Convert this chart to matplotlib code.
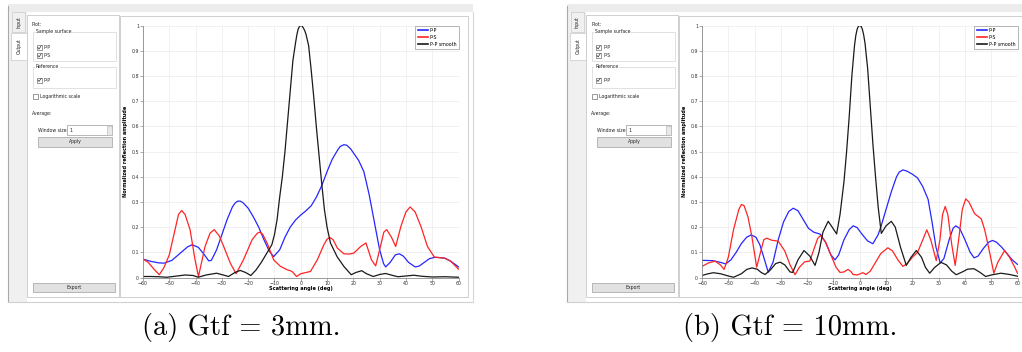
import matplotlib.pyplot as plt
from matplotlib.patches import Rectangle

# Normalised reflection amplitude vs scattering angle (deg)
# (a) Gtf = 3 mm
ang_pp_a = [-60, -57, -54, -52, -49, -46, -43, -41.3, -39, -37, -35, -34, -32, -30, -28, -26, -25, -24,
            -23, -22, -20, -18, -16, -14, -12, -10.3, -8, -6, -4, -2, 0, 2, 4, 6, 8, 10, 12, 14, 15,
            16.4, 17.5, 19, 20, 22, 24, 26, 28, 30, 31.5, 32.3, 34, 36, 37.5, 39, 41, 43.5, 45, 47,
            49, 51, 53, 55, 57, 59, 60]
pp_a = [0.073, 0.064, 0.058, 0.057, 0.068, 0.095, 0.122, 0.130, 0.120, 0.095, 0.066, 0.068, 0.11,
        0.17, 0.23, 0.28, 0.295, 0.303, 0.303, 0.297, 0.275, 0.24, 0.20, 0.15, 0.105, 0.083, 0.11,
        0.16, 0.20, 0.228, 0.248, 0.265, 0.285, 0.32, 0.365, 0.42, 0.47, 0.505, 0.52, 0.527,
        0.525, 0.51, 0.495, 0.465, 0.42, 0.33, 0.22, 0.11, 0.055, 0.042, 0.06, 0.09, 0.094,
        0.085, 0.06, 0.042, 0.045, 0.06, 0.075, 0.08, 0.079, 0.076, 0.065, 0.05, 0.042]

ang_ps_a = [-60, -58, -56, -53.8, -52, -50, -48.4, -46.5, -45.3, -44, -42.1, -40.2, -38.9, -36.4,
            -34.5, -32.9, -31, -29.3, -26.8, -24.6, -21.8, -18.5, -16.5, -15.6, -14.5, -12.8, -10.3,
            -7.7, -5.2, -3.3, -1.6, 0, 3.7, 6.3, 8.8, 10, 11.1, 12.3, 13.9, 16.4, 18.5, 20.2, 22.8,
            24.8, 26.9, 28.5, 30.3, 31.6, 32.7, 34.5, 36.1, 38.1, 40, 41.6, 43.5, 45.7, 48.2, 50.8,
            52.5, 54.6, 57, 60]
ps_a = [0.073, 0.06, 0.035, 0.011, 0.04, 0.09, 0.163, 0.25, 0.266, 0.25, 0.19, 0.07, 0.004, 0.123,
        0.176, 0.19, 0.165, 0.123, 0.057, 0.015, 0.07, 0.15, 0.176, 0.18, 0.172, 0.137, 0.07,
        0.044, 0.031, 0.024, 0.004, 0.015, 0.024, 0.07, 0.13, 0.152, 0.159, 0.15, 0.117, 0.094,
        0.093, 0.097, 0.123, 0.137, 0.07, 0.046, 0.123, 0.18, 0.19, 0.16, 0.123, 0.203, 0.26,
        0.28, 0.26, 0.203, 0.123, 0.081, 0.079, 0.077, 0.065, 0.033]

ang_sm_a = [-60, -57, -54, -51, -47, -44, -41, -39, -36, -32, -29.5, -27.5, -25, -23, -21, -19, -17,
            -15, -13, -11, -10, -9, -8, -7, -6, -5, -4, -3, -2, -1.5, -1, -0.5, 0, 0.5, 1, 1.5, 2,
            3, 4, 5, 6, 7, 8, 9, 10, 11.3, 13.8, 16.4, 19.2, 21, 23.2, 25, 27.6, 30, 32.3, 35, 37,
            40, 43, 46, 50, 55, 60]
sm_a = [0.004, 0.004, 0.003, 0.001, 0.006, 0.01, 0.008, 0.001, 0.01, 0.017, 0.01, 0.004, 0.02,
        0.028, 0.02, 0.008, 0.03, 0.06, 0.095, 0.13, 0.17, 0.23, 0.32, 0.40, 0.50, 0.62, 0.74,
        0.86, 0.93, 0.962, 0.985, 0.996, 1.0, 0.998, 0.99, 0.98, 0.965, 0.92, 0.82, 0.71, 0.59,
        0.48, 0.37, 0.27, 0.2, 0.137, 0.083, 0.044, 0.011, 0.02, 0.027, 0.015, 0.004, 0.012,
        0.016, 0.008, 0.003, 0.006, 0.009, 0.005, 0.002, 0.003, 0.001]

# (b) Gtf = 10 mm
ang_pp_b = [-60, -56, -53, -51, -49, -47, -45, -43, -41.3, -39.5, -38, -36.5, -34.8, -33, -31, -29,
            -27, -25.3, -23.5, -21.5, -19.5, -17.5, -15, -13, -11, -9.4, -8, -6, -4, -2.5, -1, 1,
            3, 5, 7, 8, 10, 12, 14, 15, 16.4, 18, 20, 22, 24, 26, 27.5, 29, 30.6, 32, 34, 35.5,
            36.5, 38, 40, 42, 43.5, 45, 47, 49, 50.5, 52, 54, 56, 58, 60]
pp_b = [0.068, 0.067, 0.06, 0.054, 0.07, 0.10, 0.135, 0.16, 0.169, 0.16, 0.13, 0.08, 0.021, 0.06,
        0.15, 0.22, 0.262, 0.275, 0.265, 0.23, 0.195, 0.18, 0.172, 0.14, 0.09, 0.07, 0.09, 0.15,
        0.19, 0.205, 0.198, 0.17, 0.145, 0.134, 0.17, 0.20, 0.27, 0.34, 0.40, 0.418, 0.427, 0.422,
        0.41, 0.395, 0.36, 0.31, 0.22, 0.12, 0.058, 0.075, 0.15, 0.195, 0.205, 0.195, 0.15,
        0.10, 0.078, 0.085, 0.115, 0.14, 0.147, 0.14, 0.12, 0.095, 0.07, 0.052]

ang_ps_b = [-60, -57.5, -55, -53, -51.6, -50, -48, -46, -45, -44, -42.5, -41, -39.2, -38, -36.5,
            -35.4, -33.5, -31, -28.5, -26.5, -24.6, -23, -21, -19, -17.5, -16, -14.9, -13, -11,
            -9, -7.5, -6, -4.5, -3.5, -2.5, -1, 1.2, 2.4, 4, 6, 8, 10.7, 12.5, 14.5, 16.4, 18, 20,
            22, 24, 25.5, 27, 29.1, 30.5, 31.5, 32.5, 33.5, 35, 36.3, 37.5, 39, 40.3, 41.5, 43.7,
            46.2, 47.5, 49, 51, 52.5, 55.1, 57, 59, 60]
ps_b = [0.044, 0.058, 0.065, 0.05, 0.032, 0.08, 0.19, 0.27, 0.29, 0.285, 0.24, 0.16, 0.041, 0.09,
        0.15, 0.156, 0.148, 0.144, 0.105, 0.05, 0.011, 0.04, 0.062, 0.065, 0.11, 0.155, 0.167,
        0.14, 0.09, 0.04, 0.02, 0.022, 0.032, 0.025, 0.012, 0.01, 0.019, 0.012, 0.025, 0.06,
        0.095, 0.118, 0.105, 0.07, 0.044, 0.055, 0.08, 0.10, 0.15, 0.189, 0.15, 0.067, 0.15,
        0.25, 0.282, 0.25, 0.13, 0.048, 0.14, 0.27, 0.312, 0.30, 0.253, 0.233, 0.19, 0.12,
        0.017, 0.06, 0.107, 0.08, 0.04, 0.017]

ang_sm_b = [-60, -58, -55.7, -53, -50, -48, -45, -43, -41, -39, -37.5, -36, -34, -32, -30.3, -28.5,
            -26.5, -25.5, -23.5, -21.2, -19, -17, -15.5, -14, -12, -10.5, -8.8, -7.5, -6, -5, -4,
            -3, -2, -1.5, -1, -0.5, 0, 0.5, 1, 1.5, 2, 3, 4, 5, 6, 7, 8.2, 10, 12, 13.5, 15.5,
            17.7, 19.5, 21.5, 23.5, 25, 26.6, 28.5, 30.9, 33, 35, 36.7, 39, 41, 43.4, 45.5, 47.9,
            50, 53.7, 57, 60]
sm_b = [0.008, 0.014, 0.019, 0.015, 0.006, 0.001, 0.015, 0.032, 0.038, 0.033, 0.02, 0.012, 0.03,
        0.055, 0.061, 0.05, 0.022, 0.02, 0.07, 0.107, 0.085, 0.048, 0.10, 0.18, 0.223, 0.20,
        0.173, 0.25, 0.38, 0.5, 0.64, 0.8, 0.92, 0.96, 0.985, 0.997, 1.0, 0.997, 0.985, 0.962,
        0.93, 0.83, 0.68, 0.53, 0.40, 0.28, 0.175, 0.205, 0.223, 0.20, 0.12, 0.048, 0.08, 0.107,
        0.08, 0.04, 0.017, 0.04, 0.06, 0.05, 0.025, 0.011, 0.022, 0.033, 0.035, 0.022, 0.004,
        0.01, 0.017, 0.012, 0.005]

x_ticks = list(range(-60, 61, 10))
y_ticks = [i / 10 for i in range(11)]
y_tick_labels = ['0', '0.1', '0.2', '0.3', '0.4', '0.5', '0.6', '0.7', '0.8', '0.9', '1']
series_names = ['P-P', 'P-S', 'P-P smooth']
series_colors = ['#2626ff', '#ff2424', '#1a1a1a']
captions = ['(a) Gtf = 3mm.', '(b) Gtf = 10mm.']

W, H = 1022, 352
fig = plt.figure(figsize=(W / 100, H / 100), dpi=100)
fig.patch.set_facecolor('white')
bg = fig.add_axes([0, 0, 1, 1])
bg.set_xlim(0, W)
bg.set_ylim(H, 0)
bg.axis('off')

UI = 3.3  # font size for the widget text


def box(x0, y0, x1, y1, fc='white', ec='#c8c8c8', lw=0.6, z=1):
    bg.add_patch(Rectangle((x0, y0), x1 - x0, y1 - y0, facecolor=fc, edgecolor=ec, lw=lw, zorder=z))


def checkbox(x, y, label, checked=True):
    box(x, y - 2.5, x + 5, y + 2.5, ec='#707070', lw=0.5, z=3)
    if checked:
        bg.plot([x + 0.9, x + 2.1, x + 4.2], [y, y + 1.5, y - 1.7], color='#333333', lw=0.5, zorder=4)
    bg.text(x + 7, y, label, fontsize=UI, va='center', ha='left', color='#222222', zorder=4)


def group(x0, y0, x1, y1, title):
    box(x0, y0, x1, y1, fc='none', ec='#dcdcdc', lw=0.6, z=2)
    bg.text(x0 + 3, y0, title, fontsize=UI, va='center', ha='left', color='#222222', zorder=4,
            bbox=dict(facecolor='white', edgecolor='none', pad=0.4))


def button(x0, y0, x1, y1, label):
    box(x0, y0, x1, y1, fc='#e1e1e1', ec='#adadad', lw=0.6, z=3)
    bg.text((x0 + x1) / 2, (y0 + y1) / 2, label, fontsize=UI, ha='center', va='center',
            color='#222222', zorder=4)


def window(ox, angles, values, caption, cx):
    # window chrome: top strip, tab bar, option panel and plot frame
    box(ox, 4, ox + 465, 12, fc='#ececec', ec='none', z=0)
    box(ox, 12, ox + 19, 302, fc='#f0f0f0', ec='none', z=0)
    bg.plot([ox, ox], [6, 302], color='#a8a8a8', lw=0.8, zorder=1)
    bg.plot([ox, ox + 465], [302, 302], color='#d0d0d0', lw=0.8, zorder=1)
    bg.plot([ox + 465, ox + 465], [12, 302], color='#d8d8d8', lw=0.8, zorder=1)
    box(ox + 4, 12, ox + 17, 32, fc='#f0f0f0', ec='#c8c8c8', lw=0.5, z=1)
    box(ox + 3, 33, ox + 19, 60, fc='white', ec='#c8c8c8', lw=0.5, z=1)
    bg.text(ox + 10.5, 22, 'Input', rotation=90, fontsize=UI, ha='center', va='center', color='#222222')
    bg.text(ox + 11, 46.5, 'Output', rotation=90, fontsize=UI, ha='center', va='center', color='#222222')

    box(ox + 19, 15, ox + 111, 297)
    bg.text(ox + 24, 24, 'Plot:', fontsize=UI, va='center', color='#222222')
    group(ox + 25, 32, ox + 108, 61, 'Sample surface')
    checkbox(ox + 29, 47.5, 'P-P')
    checkbox(ox + 29, 55.5, 'P-S')
    group(ox + 25, 67, ox + 108, 88, 'Reference')
    checkbox(ox + 29, 80, 'P-P')
    checkbox(ox + 25, 96.5, 'Logarithmic scale', checked=False)
    bg.text(ox + 24, 114, 'Average:', fontsize=UI, va='center', color='#222222')
    bg.text(ox + 30, 130, 'Window size', fontsize=UI, va='center', color='#222222')
    box(ox + 59, 125, ox + 104, 135, ec='#9a9a9a', lw=0.5, z=3)
    box(ox + 99, 125.5, ox + 103.5, 134.5, fc='#e8e8e8', ec='#b0b0b0', lw=0.4, z=4)
    bg.text(ox + 61, 130, '1', fontsize=UI, va='center', color='#222222', zorder=5)
    button(ox + 30, 137, ox + 104, 147, 'Apply')
    button(ox + 25, 283, ox + 107, 292, 'Export')

    box(ox + 112, 15.5, ox + 460, 297)

    # the chart itself
    x0, x1, y0, y1 = ox + 135, ox + 450.5, 25.5, 277.5
    ax = fig.add_axes([x0 / W, 1 - y1 / H, (x1 - x0) / W, (y1 - y0) / H])
    ax.set_zorder(5)
    for a, v, name, c in zip(angles, values, series_names, series_colors):
        ax.plot(a, v, color=c, lw=0.9, label=name, solid_joinstyle='round')
    ax.set_xlim(-60, 60)
    ax.set_ylim(0, 1)
    ax.set_xticks(x_ticks)
    ax.set_yticks(y_ticks)
    ax.set_yticklabels(y_tick_labels)
    ax.grid(True, color='#ececec', lw=0.5)
    ax.set_axisbelow(True)
    for s in ('top', 'right'):
        ax.spines[s].set_visible(False)
    for s in ('left', 'bottom'):
        ax.spines[s].set_color('#8a8a8a')
        ax.spines[s].set_linewidth(0.6)
    ax.tick_params(direction='out', length=2, width=0.5, color='#8a8a8a',
                   labelsize=3.4, pad=0.8, labelcolor='#333333')
    ax.set_ylabel('Normalized reflection amplitude', fontsize=3.6, fontweight='bold')
    ax.yaxis.set_label_coords(-0.048, 0.5)
    ax.set_xlabel('Scattering angle (deg)', fontsize=3.6, fontweight='bold')
    ax.xaxis.set_label_coords(0.5, -0.034)
    leg = ax.legend(loc='upper right', fontsize=3.4, borderaxespad=0, handlelength=2.2,
                    handletextpad=0.3, labelspacing=0.4, borderpad=0.5, fancybox=False,
                    framealpha=1, edgecolor='#9a9a9a')
    leg.get_frame().set_linewidth(0.5)
    for line in leg.get_lines():
        line.set_linewidth(1.2)

    bg.text(cx, 328, caption, fontfamily='cmr10', fontsize=20.5, ha='center', va='center')


window(8, [ang_pp_a, ang_ps_a, ang_sm_a], [pp_a, ps_a, sm_a], captions[0], 241)
window(567, [ang_pp_b, ang_ps_b, ang_sm_b], [pp_b, ps_b, sm_b], captions[1], 790)

fig.savefig('out.png', dpi=100)
